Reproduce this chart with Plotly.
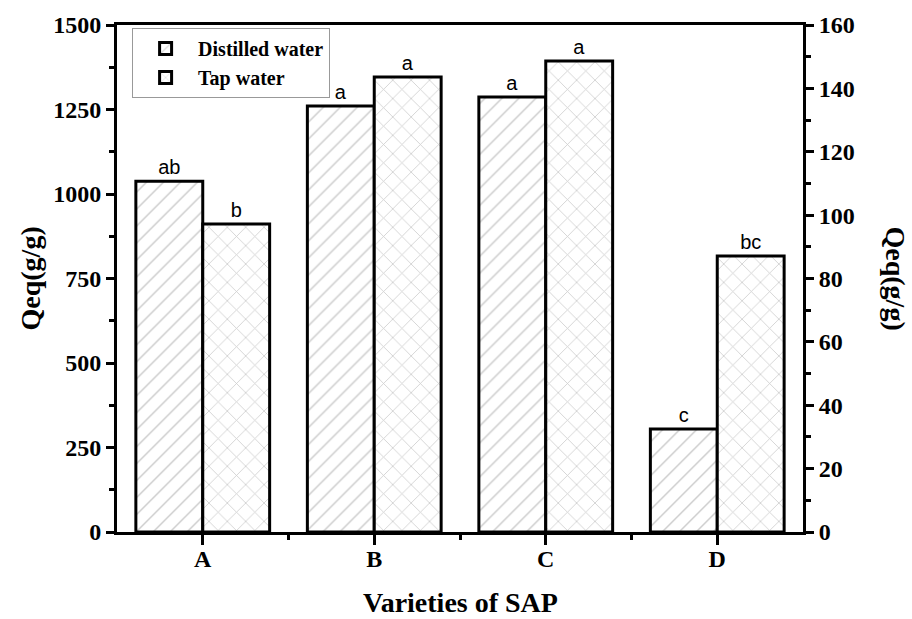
import plotly.graph_objects as go

# Swelling capacity of four SAP varieties
varieties = ["A", "B", "C", "D"]
distilled_qeq = [1038, 1260, 1287, 305]      # left axis, g/g
tap_qeq = [97.2, 143.6, 148.6, 87.1]         # right axis, g/g
distilled_sig = ["ab", "a", "a", "c"]
tap_sig = ["b", "a", "a", "bc"]

x_pos = list(range(len(varieties)))
serif = "Liberation Serif"
bar_w = 0.39
label_font = dict(family="Liberation Sans", size=20, color="black")

fig = go.Figure()
fig.add_trace(go.Bar(
    x=x_pos, y=distilled_qeq, name="Distilled water",
    width=bar_w, offset=-bar_w,
    text=distilled_sig, textposition="outside", textfont=label_font,
    marker=dict(color="white", line=dict(color="black", width=3),
                pattern=dict(shape="/", fgcolor="#999", bgcolor="white",
                             size=12, solidity=0.12)),
    cliponaxis=False, yaxis="y",
))
fig.add_trace(go.Bar(
    x=x_pos, y=tap_qeq, name="Tap water",
    width=bar_w, offset=0,
    text=tap_sig, textposition="outside", textfont=label_font,
    marker=dict(color="white", line=dict(color="black", width=3),
                pattern=dict(shape="x", fgcolor="#999", bgcolor="white",
                             size=13, solidity=0.12)),
    cliponaxis=False, yaxis="y2",
))

tick_font = dict(family=serif, size=24, color="black", weight="bold")
title_font = dict(family=serif, size=28, color="black", weight="bold")

fig.update_layout(
    width=912, height=619,
    margin=dict(l=117, r=109, t=25, b=87, autoexpand=False),
    paper_bgcolor="white", plot_bgcolor="white",
    barmode="overlay",
    showlegend=True,
    legend=dict(x=0.022, y=0.994, xanchor="left", yanchor="top",
                bgcolor="rgba(255,255,255,0)", bordercolor="#999",
                borderwidth=1,
                font=dict(family=serif, size=20, color="black", weight="bold"),
                itemwidth=55, tracegroupgap=0),
    xaxis=dict(
        range=[-0.5, 3.5], tickvals=x_pos, ticktext=varieties,
        showline=True, linecolor="black", linewidth=3, mirror=True,
        ticks="outside", ticklen=10, tickwidth=3, tickcolor="black",
        ticklabelstandoff=-7, automargin=False,
        minor=dict(tickvals=[0.5, 1.5, 2.5], ticks="outside", ticklen=5,
                   tickwidth=3, tickcolor="black"),
        showgrid=False, zeroline=False, tickfont=tick_font,
    ),
    yaxis=dict(
        range=[0, 1500], tickvals=[0, 250, 500, 750, 1000, 1250, 1500],
        showline=True, linecolor="black", linewidth=3, automargin=False,
        ticks="outside", ticklen=8, tickwidth=3, tickcolor="black",
        minor=dict(dtick=125, ticks="outside", ticklen=5, tickwidth=3,
                   tickcolor="black"),
        showgrid=False, zeroline=False, tickfont=tick_font,
    ),
    yaxis2=dict(
        range=[0, 160], tickvals=list(range(0, 161, 20)),
        overlaying="y", side="right", automargin=False,
        showline=True, linecolor="black", linewidth=3,
        ticks="outside", ticklen=8, tickwidth=3, tickcolor="black",
        minor=dict(dtick=10, ticks="outside", ticklen=5, tickwidth=3,
                   tickcolor="black"),
        showgrid=False, zeroline=False, tickfont=tick_font,
    ),
    annotations=[
        dict(text="Qeq(g/g)", textangle=-90, font=title_font,
             xref="paper", yref="paper", x=0.0, y=0.5, xshift=-87,
             showarrow=False, xanchor="center", yanchor="middle"),
        dict(text="Qeq(g/g)", textangle=90, font=title_font,
             xref="paper", yref="paper", x=1.0, y=0.5, xshift=92,
             showarrow=False, xanchor="center", yanchor="middle"),
        dict(text="Varieties of SAP", font=title_font,
             xref="paper", yref="paper", x=0.5, y=0.0, yshift=-70,
             showarrow=False, xanchor="center", yanchor="middle"),
    ],
)

fig.write_html("out.html")
